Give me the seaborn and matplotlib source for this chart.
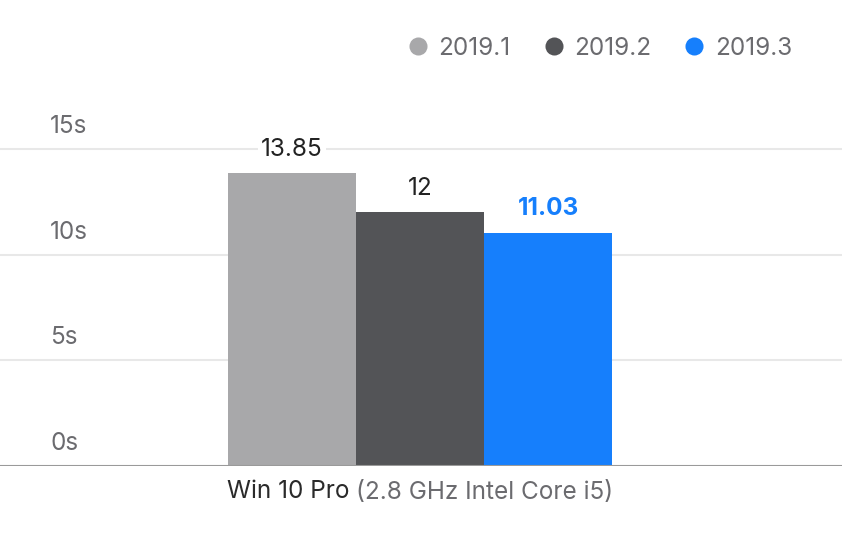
import seaborn as sns
import matplotlib.pyplot as plt
import matplotlib.transforms as mtransforms
from matplotlib.lines import Line2D
import pandas as pd

# Data
machine = ["Win 10 Pro"]
versions = ["2019.1", "2019.2", "2019.3"]
seconds = [13.85, 12, 11.03]
value_labels = ["13.85", "12", "11.03"]
yticks = [0, 5, 10, 15]
ytick_labels = ["0s", "5s", "10s", "15s"]

colors = {"2019.1": "#A8A8AA", "2019.2": "#535457", "2019.3": "#167FFC"}
text_gray = "#6B6B6F"
fs = 17.5

df = pd.DataFrame({"machine": machine * 3, "version": versions, "seconds": seconds})

sns.set_style("white")
plt.rcParams["font.family"] = ["Inter", "DejaVu Sans"]

fig = plt.figure(figsize=(8.42, 5.4), dpi=100)
ax = fig.add_axes([0, 1 - 466 / 540, 1, (466 - 149) / 540])

sns.barplot(data=df, x="machine", y="seconds", hue="version", palette=colors,
            width=0.8, saturation=1, linewidth=0, ax=ax, legend=False)

ax.set_xlim(-0.875, 0.879)
ax.set_ylim(0, 15)

# gridlines and baseline
for v in yticks[1:]:
    ax.axhline(v, color="#E8E8E8", lw=1.5, zorder=0, clip_on=False)
ax.axhline(0, color="#9A9A9A", lw=1.5, zorder=3)

for s in ax.spines.values():
    s.set_visible(False)
ax.set_xticks([])
ax.set_yticks([])
ax.set_xlabel("")
ax.set_ylabel("")

# y tick labels sit above their gridline
trans = mtransforms.blended_transform_factory(ax.transAxes, ax.transData)
trans = mtransforms.offset_copy(trans, fig=fig, x=0, y=16, units="dots")
for v, lab in zip(yticks, ytick_labels):
    ax.text(50 / 842, v, lab, transform=trans, ha="left", va="baseline",
            fontsize=fs, color=text_gray)

# value labels above bars
for i, (patch, lab) in enumerate(zip(ax.patches, value_labels)):
    x = patch.get_x() + patch.get_width() / 2
    y = patch.get_height()
    last = i == len(value_labels) - 1
    t = ax.annotate(lab, (x, y), xytext=(0, 9), textcoords="offset points",
                    ha="center", va="bottom", fontsize=fs,
                    color=colors[versions[i]] if last else "#222222",
                    fontweight="bold" if last else "normal", annotation_clip=False)
    t.set_bbox(dict(facecolor="white", edgecolor="none", pad=2))

# x label: name dark, spec gray, centred together under the group
name = fig.text(0, 1 - 492 / 540, "Win 10 Pro ", fontsize=fs, color="#2A2A2A", va="center")
spec = fig.text(0, 1 - 492 / 540, "(2.8 GHz Intel Core i5)", fontsize=fs,
                color=text_gray, va="center")
fig.canvas.draw()
w1 = name.get_window_extent().width
w2 = spec.get_window_extent().width
x0 = 420 - (w1 + w2) / 2
name.set_x(x0 / 842)
spec.set_x((x0 + w1) / 842)

# legend with round markers
handles = [Line2D([], [], marker="o", ls="none", markersize=13,
                  markerfacecolor=colors[v], markeredgecolor="none") for v in versions]
fig.legend(handles, versions, loc="upper right", bbox_to_anchor=(0.967, 0.972),
           ncol=3, frameon=False, fontsize=fs, labelcolor=text_gray,
           handletextpad=0.35, columnspacing=1.27, handlelength=1.0)

fig.savefig("out.png", dpi=100)
